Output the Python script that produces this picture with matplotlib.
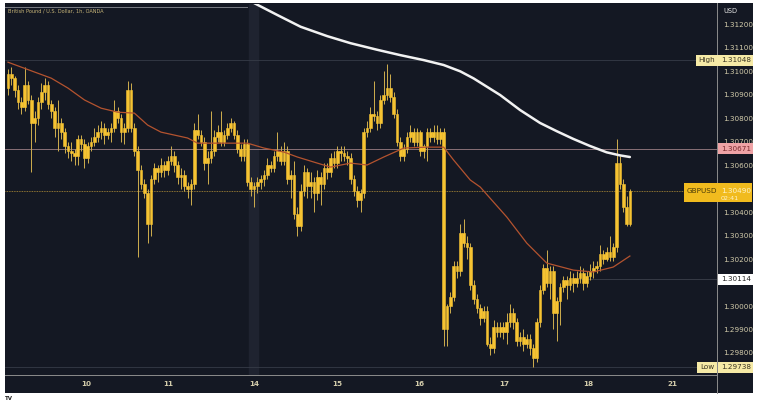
import matplotlib
matplotlib.use('Agg')
import matplotlib.pyplot as plt
import matplotlib.transforms as mtransforms
from matplotlib.patches import Rectangle
from matplotlib.lines import Line2D
import numpy as np

# Hourly GBP/USD candles (OANDA)
opens = [
    1.3093, 1.3099, 1.3097, 1.3092, 1.3087, 1.3085, 1.3094, 1.3088, 1.3078, 1.3080,
    1.3087, 1.3091, 1.3094, 1.3086, 1.3083, 1.3076, 1.3078, 1.3074, 1.3068, 1.3066,
    1.3065, 1.3064, 1.3071, 1.3069, 1.3063, 1.3068, 1.3070, 1.3072, 1.3074, 1.3076,
    1.3073, 1.3074, 1.3076, 1.3083, 1.3080, 1.3074, 1.3076, 1.3092, 1.3076, 1.3066,
    1.3058, 1.3052, 1.3048, 1.3035, 1.3054, 1.3059, 1.3057, 1.3060, 1.3058, 1.3062,
    1.3064, 1.3060, 1.3055, 1.3056, 1.3051, 1.3050, 1.3052, 1.3075, 1.3073, 1.3070,
    1.3061, 1.3063, 1.3066, 1.3072, 1.3074, 1.3070, 1.3073, 1.3076, 1.3078, 1.3073,
    1.3067, 1.3064, 1.3069, 1.3053, 1.3050, 1.3051, 1.3053, 1.3054, 1.3056, 1.3060,
    1.3059, 1.3064, 1.3066, 1.3062, 1.3066, 1.3054, 1.3056, 1.3039, 1.3034, 1.3049,
    1.3057, 1.3051, 1.3053, 1.3048, 1.3055, 1.3052, 1.3059, 1.3057, 1.3063, 1.3061,
    1.3066, 1.3065, 1.3064, 1.3063, 1.3054, 1.3049, 1.3045, 1.3048, 1.3074, 1.3076,
    1.3082, 1.3081, 1.3078, 1.3088, 1.3090, 1.3093, 1.3089, 1.3082, 1.3070, 1.3064,
    1.3067, 1.3072, 1.3074, 1.3070, 1.3074, 1.3066, 1.3068, 1.3074, 1.3072, 1.3074,
    1.3071, 1.3074, 1.2990, 1.3000, 1.3004, 1.3017, 1.3015, 1.3031, 1.3027, 1.3025,
    1.3009, 1.3003, 1.2999, 1.2995, 1.2998, 1.2984, 1.2982, 1.2991, 1.2989, 1.2991,
    1.2989, 1.2993, 1.2997, 1.2993, 1.2985, 1.2987, 1.2984, 1.2986, 1.2982, 1.2978,
    1.2993, 1.3007, 1.3016, 1.3010, 1.3015, 1.2997, 1.3002, 1.3008, 1.3011, 1.3009,
    1.3012, 1.3010, 1.3012, 1.3014, 1.3010, 1.3013, 1.3015, 1.3016, 1.3017, 1.3022,
    1.3020, 1.3023, 1.3021, 1.3025, 1.3061, 1.3052, 1.3042, 1.3035,
]
highs = [
    1.3101, 1.3102, 1.3098, 1.3094, 1.3089, 1.3102, 1.3096, 1.3090, 1.3083, 1.3089,
    1.3095, 1.3097, 1.3096, 1.3088, 1.3085, 1.3088, 1.3080, 1.3076, 1.3070, 1.3070,
    1.3067, 1.3073, 1.3073, 1.3071, 1.3070, 1.3072, 1.3076, 1.3077, 1.3079, 1.3078,
    1.3076, 1.3078, 1.3088, 1.3085, 1.3082, 1.3078, 1.3096, 1.3095, 1.3078, 1.3068,
    1.3060, 1.3054, 1.3050, 1.3056, 1.3061, 1.3060, 1.3063, 1.3062, 1.3064, 1.3068,
    1.3066, 1.3062, 1.3059, 1.3058, 1.3053, 1.3054, 1.3078, 1.3082, 1.3075, 1.3072,
    1.3066, 1.3083, 1.3075, 1.3077, 1.3083, 1.3075, 1.3078, 1.3080, 1.3079, 1.3075,
    1.3069, 1.3071, 1.3071, 1.3055, 1.3053, 1.3055, 1.3056, 1.3058, 1.3063, 1.3062,
    1.3066, 1.3074, 1.3068, 1.3070, 1.3068, 1.3058, 1.3062, 1.3042, 1.3052, 1.3060,
    1.3059, 1.3057, 1.3055, 1.3058, 1.3057, 1.3061, 1.3061, 1.3065, 1.3066, 1.3068,
    1.3068, 1.3068, 1.3066, 1.3065, 1.3056, 1.3051, 1.3050, 1.3076, 1.3079, 1.3085,
    1.3096, 1.3083, 1.3090, 1.3100, 1.3103, 1.3099, 1.3091, 1.3084, 1.3072, 1.3069,
    1.3074, 1.3077, 1.3076, 1.3076, 1.3075, 1.3069, 1.3076, 1.3076, 1.3077, 1.3077,
    1.3076, 1.3076, 1.3001, 1.3006, 1.3019, 1.3019, 1.3035, 1.3037, 1.3030, 1.3027,
    1.3011, 1.3005, 1.3001, 1.3000, 1.3000, 1.2987, 1.2994, 1.2993, 1.2993, 1.2993,
    1.2997, 1.3001, 1.2999, 1.2995, 1.2989, 1.2990, 1.2988, 1.2988, 1.2984, 1.2995,
    1.3009, 1.3018, 1.3024, 1.3017, 1.3017, 1.3004, 1.3010, 1.3013, 1.3013, 1.3015,
    1.3014, 1.3015, 1.3017, 1.3016, 1.3015, 1.3018, 1.3019, 1.3019, 1.3026, 1.3024,
    1.3025, 1.3030, 1.3027, 1.3071, 1.3064, 1.3054, 1.3047, 1.3050,
]
lows = [
    1.3090, 1.3094, 1.3089, 1.3084, 1.3082, 1.3083, 1.3086, 1.3057, 1.3070, 1.3077,
    1.3084, 1.3088, 1.3084, 1.3080, 1.3072, 1.3066, 1.3071, 1.3065, 1.3063, 1.3062,
    1.3060, 1.3060, 1.3066, 1.3059, 1.3061, 1.3066, 1.3068, 1.3070, 1.3071, 1.3069,
    1.3071, 1.3070, 1.3074, 1.3078, 1.3070, 1.3069, 1.3074, 1.3074, 1.3064, 1.3021,
    1.3050, 1.3046, 1.3027, 1.3030, 1.3052, 1.3053, 1.3055, 1.3055, 1.3056, 1.3060,
    1.3057, 1.3052, 1.3050, 1.3049, 1.3046, 1.3043, 1.3050, 1.3071, 1.3068, 1.3058,
    1.3052, 1.3061, 1.3064, 1.3070, 1.3068, 1.3068, 1.3071, 1.3074, 1.3071, 1.3065,
    1.3062, 1.3062, 1.3051, 1.3047, 1.3042, 1.3048, 1.3050, 1.3051, 1.3054, 1.3057,
    1.3057, 1.3062, 1.3060, 1.3060, 1.3052, 1.3046, 1.3037, 1.3030, 1.3032, 1.3047,
    1.3046, 1.3046, 1.3040, 1.3045, 1.3043, 1.3050, 1.3054, 1.3055, 1.3059, 1.3059,
    1.3062, 1.3062, 1.3060, 1.3052, 1.3047, 1.3042, 1.3040, 1.3046, 1.3072, 1.3074,
    1.3079, 1.3075, 1.3076, 1.3086, 1.3088, 1.3087, 1.3080, 1.3068, 1.3062, 1.3062,
    1.3065, 1.3070, 1.3068, 1.3068, 1.3064, 1.3063, 1.3062, 1.3070, 1.3070, 1.3069,
    1.3069, 1.2983, 1.2983, 1.2997, 1.3002, 1.3012, 1.3013, 1.3025, 1.3020, 1.3007,
    1.3001, 1.2997, 1.2992, 1.2993, 1.2983, 1.2979, 1.2980, 1.2987, 1.2987, 1.2986,
    1.2984, 1.2991, 1.2990, 1.2983, 1.2983, 1.2981, 1.2982, 1.2979, 1.2974, 1.2976,
    1.2991, 1.3005, 1.3008, 1.3003, 1.2990, 1.2985, 1.2992, 1.3006, 1.3003, 1.3007,
    1.3006, 1.3008, 1.3010, 1.3007, 1.3008, 1.3011, 1.3012, 1.3014, 1.3015, 1.3018,
    1.3019, 1.3019, 1.3019, 1.3023, 1.3050, 1.3040, 1.3034, 1.3034,
]
closes = [
    1.3099, 1.3097, 1.3092, 1.3087, 1.3085, 1.3094, 1.3088, 1.3078, 1.3080, 1.3087,
    1.3091, 1.3094, 1.3086, 1.3083, 1.3076, 1.3078, 1.3074, 1.3068, 1.3066, 1.3065,
    1.3064, 1.3071, 1.3069, 1.3063, 1.3068, 1.3070, 1.3072, 1.3074, 1.3076, 1.3073,
    1.3074, 1.3076, 1.3083, 1.3080, 1.3074, 1.3076, 1.3092, 1.3076, 1.3066, 1.3058,
    1.3052, 1.3048, 1.3035, 1.3054, 1.3059, 1.3057, 1.3060, 1.3058, 1.3062, 1.3064,
    1.3060, 1.3055, 1.3056, 1.3051, 1.3050, 1.3052, 1.3075, 1.3073, 1.3070, 1.3061,
    1.3063, 1.3066, 1.3072, 1.3074, 1.3070, 1.3073, 1.3076, 1.3078, 1.3073, 1.3067,
    1.3064, 1.3069, 1.3053, 1.3050, 1.3051, 1.3053, 1.3054, 1.3056, 1.3060, 1.3059,
    1.3064, 1.3066, 1.3062, 1.3066, 1.3054, 1.3056, 1.3039, 1.3034, 1.3049, 1.3057,
    1.3051, 1.3053, 1.3048, 1.3055, 1.3052, 1.3059, 1.3057, 1.3063, 1.3061, 1.3066,
    1.3065, 1.3064, 1.3063, 1.3054, 1.3049, 1.3045, 1.3048, 1.3074, 1.3076, 1.3082,
    1.3081, 1.3078, 1.3088, 1.3090, 1.3093, 1.3089, 1.3082, 1.3070, 1.3064, 1.3067,
    1.3072, 1.3074, 1.3070, 1.3074, 1.3066, 1.3068, 1.3074, 1.3072, 1.3074, 1.3071,
    1.3074, 1.2990, 1.3000, 1.3004, 1.3017, 1.3015, 1.3031, 1.3027, 1.3025, 1.3009,
    1.3003, 1.2999, 1.2995, 1.2998, 1.2984, 1.2982, 1.2991, 1.2989, 1.2991, 1.2989,
    1.2993, 1.2997, 1.2993, 1.2985, 1.2987, 1.2984, 1.2986, 1.2982, 1.2978, 1.2993,
    1.3007, 1.3016, 1.3010, 1.3015, 1.2997, 1.3002, 1.3008, 1.3011, 1.3009, 1.3012,
    1.3010, 1.3012, 1.3014, 1.3010, 1.3013, 1.3015, 1.3016, 1.3017, 1.3022, 1.3020,
    1.3023, 1.3021, 1.3025, 1.3061, 1.3052, 1.3042, 1.3035, 1.3049,
]

# moving averages, sampled at candle positions
ma50_idx = [0, 8, 13, 18, 23, 28, 33, 38, 42, 46, 54, 57, 65, 72, 77, 83, 87, 93, 97,
            103, 108, 113, 119, 126, 131, 134, 139, 142, 150, 156, 162, 170, 176, 182, 187]
ma50_val = [1.31039, 1.30997, 1.30971, 1.30929, 1.30878, 1.30843, 1.30826, 1.30822,
            1.30771, 1.30741, 1.30716, 1.30694, 1.30694, 1.30694, 1.30673, 1.30656,
            1.30635, 1.30609, 1.30592, 1.30609, 1.30601, 1.30635, 1.30673, 1.30677,
            1.30677, 1.30622, 1.30537, 1.30507, 1.30379, 1.30268, 1.30183, 1.30153,
            1.30145, 1.30166, 1.30213]
ma200_idx = [74, 81, 88, 96, 103, 111, 118, 125, 131, 136, 140, 148, 154, 160, 165,
             170, 175, 180, 184, 187]
ma200_val = [1.31291, 1.31240, 1.31190, 1.31150, 1.31120, 1.31092, 1.31069, 1.31048,
             1.31027, 1.31000, 1.30970, 1.30899, 1.30835, 1.30780, 1.30745,
             1.30712, 1.30682, 1.30655, 1.30642, 1.30635]

# time axis
day_ticks = [23.4, 48.3, 73.9, 99.1, 123.7, 149.2, 174.5, 199.7]
day_labels = ['10', '11', '14', '15', '16', '17', '18', '21']
price_ticks = [1.298, 1.299, 1.300, 1.302, 1.303, 1.304, 1.306, 1.307,
               1.308, 1.309, 1.310, 1.311, 1.312]

high_price = 1.31048
low_price = 1.29738
last_price = 1.30490
level_a = 1.30671
level_b = 1.30114

bg = '#141823'
gold = '#f6c332'
wick = '#cfae4e'
label_col = '#d3ccab'

fig = plt.figure(figsize=(7.6, 4.0), dpi=100)
fig.patch.set_facecolor('white')
W, H = 760.0, 400.0

# dark chart frame, behind the axes
fig.patches.append(Rectangle((5 / W, 1 - 393 / H), 748 / W, 390 / H,
                             transform=fig.transFigure, fc=bg, ec='none', zorder=-5))
# price scale separator line running into the time scale band
fig.lines.append(Line2D([717 / W, 717 / W], [1 - 393 / H, 1 - 3 / H],
                        transform=fig.transFigure, color='#8c8c8c', lw=0.7, zorder=-4))

ax = fig.add_axes([5 / W, 1 - 375 / H, 712 / W, 371 / H])
ax.set_facecolor(bg)
ax.set_xlim(-0.9, 213.2)
ax.set_ylim(1.29706, 1.31287)

for s in ['top', 'left', 'right']:
    ax.spines[s].set_visible(False)
ax.spines['bottom'].set_color('#8c8c8c')
ax.spines['bottom'].set_linewidth(0.7)

# weekend separator band
ax.axvspan(72.4, 75.2, color='#1f2330', zorder=0.5)

# horizontal levels
ax.axhline(high_price, color='#363b47', lw=0.6, zorder=1)
ax.axhline(level_a, color='#9c7e84', lw=0.6, zorder=1)
ax.axhline(last_price, color='#b89438', lw=0.6, ls=(0, (1, 1)), zorder=1)
ax.axhline(low_price, color='#363b47', lw=0.6, zorder=1)
ax.plot([170, 213.2], [level_b, level_b], color='#3c404b', lw=0.6, zorder=1)
ax.plot([-0.9, 72], [1.31274, 1.31274], color='#7a7d85', lw=0.7, zorder=1)

# candles
x = np.arange(len(closes))
o = np.array(opens)
c = np.array(closes)
ax.vlines(x, lows, highs, color=wick, lw=0.7, zorder=2)
ax.bar(x, c - o, bottom=o, width=0.8, color=gold, edgecolor=gold,
       linewidth=0.4, zorder=3)

# moving averages
ax.plot(ma50_idx, ma50_val, color='#b4532f', lw=0.9, zorder=4,
        solid_joinstyle='round')
ax.plot(ma200_idx, ma200_val, color='#f2f2f2', lw=1.8, zorder=4,
        solid_capstyle='round', solid_joinstyle='round')

# axes ticks
ax.set_xticks(day_ticks)
ax.set_xticklabels(day_labels)
ax.yaxis.tick_right()
ax.set_yticks(price_ticks)
ax.set_yticklabels([f'{p:.5f}' for p in price_ticks])
ax.tick_params(axis='x', length=0, pad=4.5, labelsize=5.2, labelcolor=label_col)
ax.tick_params(axis='y', length=0, pad=4.5, labelsize=5.2, labelcolor=label_col)
for t in ax.get_xticklabels():
    t.set_fontweight('bold')

# price scale labels
tr = mtransforms.blended_transform_factory(ax.transAxes, ax.transData)
box = dict(boxstyle='square,pad=0.35', ec='none')


def tag(y, txt, fc, tc, xpos=1.0055):
    ax.text(xpos, y, txt, transform=tr, ha='left', va='center', fontsize=5.2,
            color=tc, bbox=dict(box, fc=fc), clip_on=False, zorder=6)


tag(high_price, '1.31048', '#f6eaa6', '#3b3522')
ax.text(0.974, high_price, 'High', transform=tr, ha='left', va='center',
        fontsize=5.2, color='#3b3522', bbox=dict(box, fc='#f6eaa6'),
        clip_on=False, zorder=6)
tag(level_a, '1.30671', '#efa3a6', '#7a2a2e')
tag(level_b, '1.30114', '#ffffff', '#222222')
tag(low_price, '1.29738', '#f6eaa6', '#3b3522')
ax.text(0.976, low_price, 'Low', transform=tr, ha='left', va='center',
        fontsize=5.2, color='#3b3522', bbox=dict(box, fc='#f6eaa6'),
        clip_on=False, zorder=6)

# current price tag
ax.add_patch(Rectangle((0.9537, last_price - 0.00046), 0.0955, 0.00080,
                       transform=tr, fc='#f1bb1e', ec='none', clip_on=False, zorder=6))
ax.text(0.9575, last_price, 'GBPUSD', transform=tr, ha='left', va='center',
        fontsize=5.2, color='#4a3b08', clip_on=False, zorder=7)
ax.text(1.0055, last_price + 0.00002, '1.30490', transform=tr, ha='left',
        va='center', fontsize=5.2, color='#fff3c8', clip_on=False, zorder=7)
ax.text(1.0055, last_price - 0.00030, '02:41', transform=tr, ha='left',
        va='center', fontsize=4.6, color='#fff3c8', clip_on=False, zorder=7)

fig.text(723 / W, 1 - 11 / H, 'USD', fontsize=4.8, color='#e6e6e6', va='center')
fig.text(8 / W, 1 - 11 / H, 'British Pound / U.S. Dollar, 1h, OANDA',
         fontsize=3.6, color='#c8b578', va='center')
fig.text(5 / W, 1 - 398 / H, 'TV', fontsize=4, fontweight='bold', color='#222222',
         va='center')

fig.savefig('out.png', dpi=100, facecolor=fig.get_facecolor())
